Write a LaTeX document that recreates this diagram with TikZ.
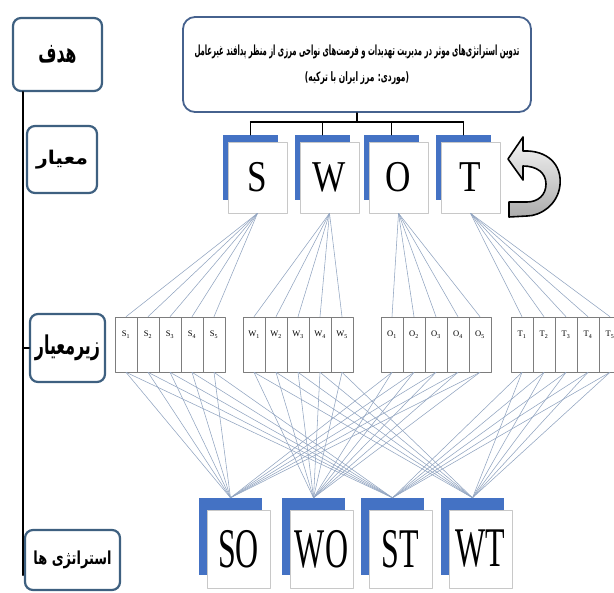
\documentclass[tikz,border=0pt]{standalone}
\usepackage{fontspec}
\setmainfont{Liberation Serif}
\newfontfamily\arabicfont[Script=Arabic]{DejaVu Sans}
\TeXXeTstate=1
\usetikzlibrary{calc}
\definecolor{frameblue}{RGB}{62,96,128}
\definecolor{goalblue}{RGB}{70,98,142}
\definecolor{swotblue}{RGB}{68,114,196}
\definecolor{linkgray}{RGB}{145,164,192}
\definecolor{cellgray}{RGB}{125,125,125}
\definecolor{paperline}{RGB}{200,200,200}
\newcommand{\fabox}[3]{\resizebox*{#1}{#2}{\arabicfont\bfseries #3}}
\tikzset{
  levelbox/.style={draw=frameblue, line width=2.2pt, rounded corners=8pt, fill=white, inner sep=0pt},
  goalbox/.style={draw=goalblue, line width=1.8pt, rounded corners=12pt, fill=white, minimum width=348pt, minimum height=95pt, inner sep=0pt, align=center},
  swotback/.style={fill=swotblue, minimum width=55pt, minimum height=65pt, inner sep=0pt},
  swotfront/.style={draw=paperline, line width=0.6pt, fill=white, minimum width=59pt, minimum height=71pt, inner sep=0pt, font=\fontsize{44}{44}\selectfont},
  stratback/.style={fill=swotblue, minimum width=63pt, minimum height=77pt, inner sep=0pt},
  stratfront/.style={draw=paperline, line width=0.6pt, fill=white, minimum width=63pt, minimum height=78pt, inner sep=0pt, font=\fontsize{56}{56}\selectfont},
  cell/.style={draw=cellgray, line width=0.6pt, fill=white, minimum width=22pt, inner sep=0pt, text height=20pt, text depth=35pt, font=\fontsize{8.5}{8.5}\selectfont},
  link/.style={draw=linkgray, line width=0.55pt}
}
\begin{document}
\begin{tikzpicture}[x=1pt, y=-1pt, line join=round, line cap=round]
    \useasboundingbox (0,0) rectangle (614,593);
    \path
    (23,575) coordinate (axisend)
    (0,122) coordinate (bus);
    % levels on the left
    \node[levelbox, minimum width=89pt, minimum height=73pt] (hadaf) at (57.5,54.5) {\fabox{38pt}{18pt}{\beginR هدف\endR}};
    \node[levelbox, minimum width=70pt, minimum height=67pt] (meyar) at (62,159.5) {\fabox{52pt}{19pt}{\beginR معیار\endR}};
    \node[levelbox, minimum width=75pt, minimum height=68pt] (zir) at (67.5,348) {\fabox{65pt}{26pt}{\beginR زیرمعیار\endR}};
    \node[levelbox, minimum width=95pt, minimum height=60pt] (strat) at (72.5,560) {\fabox{78pt}{18pt}{\beginR استراتژی ها\endR}};
    \draw[line width=2.4pt] (hadaf.south -| axisend) -- (axisend) (zir.west) -- (zir.west -| axisend);
    % goal
    \node[goalbox] (goal) at (357,64.5) {\fabox{325pt}{14pt}{\beginR تدوین استراتژی‌های موثر در مدیریت تهدیدات و فرصت‌های نواحی مرزی از منظر پدافند غیرعامل\endR}\\[12pt]\fabox{104pt}{13pt}{\beginR (موردی: مرز ایران با ترکیه)\endR}};
    % SWOT
    \foreach \k/\x in {S/223,W/295,O/364,T/436}{
        \node[swotback] (\k-bk) at (\x+27.5,167.5) {};
        \node[swotfront] (\k) at (\x+34.5,177.5) {\scalebox{0.8}[1]{\k}};
    }
    \draw[line width=1.2pt] (goal.south) -- (goal.south |- bus) (S-bk.north |- bus) -- (T-bk.north |- bus);
    \foreach \k in {S,W,O,T} \draw[line width=1.2pt] (\k-bk.north |- bus) -- (\k-bk.north);
    \draw[line width=1.6pt, top color=gray!8, bottom color=gray!65]
    (508,159) -- (523,137) -- (523,151) .. controls (548,150) and (562,165) .. (560,185)
    .. controls (558,205) and (540,216) .. (527,216) -- (509,217) -- (509,202) -- (527,202)
    .. controls (538,202) and (546,195) .. (546,184) .. controls (546,173) and (537,166) .. (523,166)
    -- (523,180) -- cycle;
    % sub-criteria
    \foreach \k/\x in {S/115,W/243,O/381,T/511}
    \foreach \i in {1,...,5}
    \node[cell] (\k\i) at (\x+22*\i-11,344.5) {\k\textsubscript{\i}};
    % strategies
    \foreach \s/\x in {SO/199,WO/282,ST/361,WT/441}{
        \node[stratback] (\s-bk) at (\x+31.5,536.5) {};
        \node[stratfront] (\s) at (\x+39.5,549) {\scalebox{0.57}[1]{\s}};
    }
    % links
    \foreach \k in {S,W,O,T}
    \foreach \i in {1,...,5} \draw[link] (\k.south) -- (\k\i.north);
    \foreach \a/\b/\s in {S/O/SO,W/O/WO,S/T/ST,W/T/WT}
    \foreach \i in {1,...,5} \draw[link] (\a\i.south) -- (\s-bk.north) (\b\i.south) -- (\s-bk.north);
\end{tikzpicture}
\end{document}
